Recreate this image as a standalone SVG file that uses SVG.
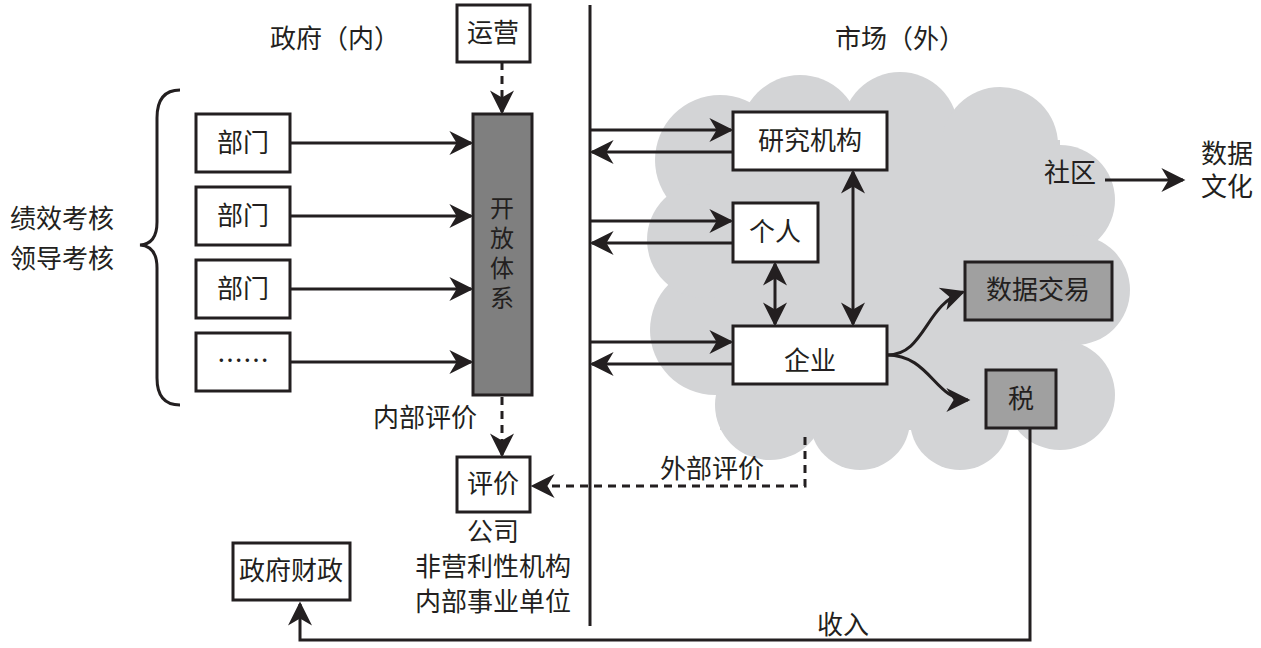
<svg xmlns="http://www.w3.org/2000/svg" width="1261" height="648" viewBox="0 0 1261 648">
<defs>
<style>
text{font-family:"Noto Sans CJK SC","Noto Sans",sans-serif;font-size:26px;fill:#231f20;text-anchor:middle}
.v{font-size:24px}
.b{fill:#fff;stroke:#231f20;stroke-width:3}
.c{stroke:#231f20;stroke-width:3;fill:none}
.d{stroke-dasharray:8 6}
</style>
<marker id="m" viewBox="0 0 10 10" refX="9" refY="5" markerWidth="26" markerHeight="24" markerUnits="userSpaceOnUse" orient="auto-start-reverse"><path d="M0,0 L10,5 L0,10 L3,5 Z" fill="#231f20"/></marker>
</defs>
<g id="cloud" fill="#d3d4d6">
<circle cx="720" cy="160" r="65"/><circle cx="800" cy="135" r="60"/><circle cx="900" cy="130" r="58"/><circle cx="1000" cy="145" r="58"/><circle cx="1060" cy="200" r="55"/><circle cx="1075" cy="290" r="55"/><circle cx="1060" cy="395" r="55"/><circle cx="960" cy="420" r="50"/><circle cx="860" cy="420" r="50"/><circle cx="770" cy="405" r="55"/><circle cx="715" cy="330" r="65"/><circle cx="705" cy="240" r="58"/><rect x="720" y="140" width="340" height="290"/>
</g>
<g id="labels">
<text x="335" y="48">政府（内）</text>
<text x="900" y="48">市场（外）</text>
<text x="62" y="228">绩效考核</text>
<text x="62" y="268">领导考核</text>
<text x="1070" y="182">社区</text>
<text x="1227" y="163">数据</text>
<text x="1227" y="196">文化</text>
<text x="425" y="427">内部评价</text>
<text x="712" y="478">外部评价</text>
<text x="493" y="541">公司</text>
<text x="493" y="576">非营利性机构</text>
<text x="493" y="611">内部事业单位</text>
<text x="843" y="634">收入</text>
</g>
<path class="c" d="M180,90 Q157,90 157,118 L157,222 Q157,244 140,245 Q157,246 157,268 L157,378 Q157,405 180,405"/>
<g id="connectors">
<line class="c" x1="590" y1="5" x2="590" y2="626"/>
<line class="c" x1="290" y1="143" x2="471" y2="143" marker-end="url(#m)"/>
<line class="c" x1="290" y1="216" x2="471" y2="216" marker-end="url(#m)"/>
<line class="c" x1="290" y1="289" x2="471" y2="289" marker-end="url(#m)"/>
<line class="c" x1="290" y1="362" x2="471" y2="362" marker-end="url(#m)"/>
<line class="c d" x1="502" y1="62" x2="502" y2="112" marker-end="url(#m)"/>
<line class="c d" x1="502" y1="397" x2="502" y2="455" marker-end="url(#m)"/>
<polyline class="c d" points="805,437 805,486 533,486" marker-end="url(#m)"/>
<line class="c" x1="590" y1="130" x2="731" y2="130" marker-end="url(#m)"/>
<line class="c" x1="733" y1="152" x2="592" y2="152" marker-end="url(#m)"/>
<line class="c" x1="590" y1="221" x2="731" y2="221" marker-end="url(#m)"/>
<line class="c" x1="733" y1="243" x2="592" y2="243" marker-end="url(#m)"/>
<line class="c" x1="590" y1="342" x2="731" y2="342" marker-end="url(#m)"/>
<line class="c" x1="733" y1="364" x2="592" y2="364" marker-end="url(#m)"/>
<line class="c" x1="775" y1="264" x2="775" y2="324" marker-start="url(#m)" marker-end="url(#m)"/>
<line class="c" x1="853" y1="172" x2="853" y2="324" marker-start="url(#m)" marker-end="url(#m)"/>
<path class="c" d="M887,355 C925,355 925,305 963,292" marker-end="url(#m)"/>
<path class="c" d="M887,355 C930,355 935,400 968,400" marker-end="url(#m)"/>
<line class="c" x1="1105" y1="180" x2="1183" y2="180" marker-end="url(#m)"/>
<polyline class="c" points="1030,428 1030,640 300,640 300,604" marker-end="url(#m)"/>
</g>
<g id="n1"><rect class="b" x="196" y="114" width="94" height="58"/><text x="243" y="152">部门</text></g>
<g id="n2"><rect class="b" x="196" y="187" width="94" height="58"/><text x="243" y="225">部门</text></g>
<g id="n3"><rect class="b" x="196" y="260" width="94" height="58"/><text x="243" y="298">部门</text></g>
<g id="n4"><rect class="b" x="196" y="333" width="94" height="58"/><text x="243" y="370">……</text></g>
<g id="open"><rect x="473" y="114" width="59" height="281" fill="#7f7f7f" stroke="#231f20" stroke-width="3"/><text class="v" x="502" y="217">开<tspan x="502" dy="30">放</tspan><tspan x="502" dy="30">体</tspan><tspan x="502" dy="30">系</tspan></text></g>
<g id="ops"><rect class="b" x="457" y="5" width="73" height="57"/><text x="493" y="42">运营</text></g>
<g id="eval"><rect class="b" x="457" y="457" width="73" height="55"/><text x="493" y="493">评价</text></g>
<g id="fin"><rect class="b" x="233" y="543" width="117" height="57"/><text x="291" y="580">政府财政</text></g>
<g id="research"><rect class="b" x="733" y="112" width="154" height="58"/><text x="810" y="150">研究机构</text></g>
<g id="person"><rect class="b" x="733" y="203" width="85" height="59"/><text x="775" y="241">个人</text></g>
<g id="firm"><rect class="b" x="733" y="326" width="154" height="58"/><text x="810" y="370">企业</text></g>
<g id="trade"><rect x="965" y="262" width="147" height="58" fill="#a0a0a0" stroke="#231f20" stroke-width="3"/><text x="1038" y="299">数据交易</text></g>
<g id="tax"><rect x="986" y="370" width="70" height="58" fill="#a0a0a0" stroke="#231f20" stroke-width="3"/><text x="1021" y="408">税</text></g>
</svg>
